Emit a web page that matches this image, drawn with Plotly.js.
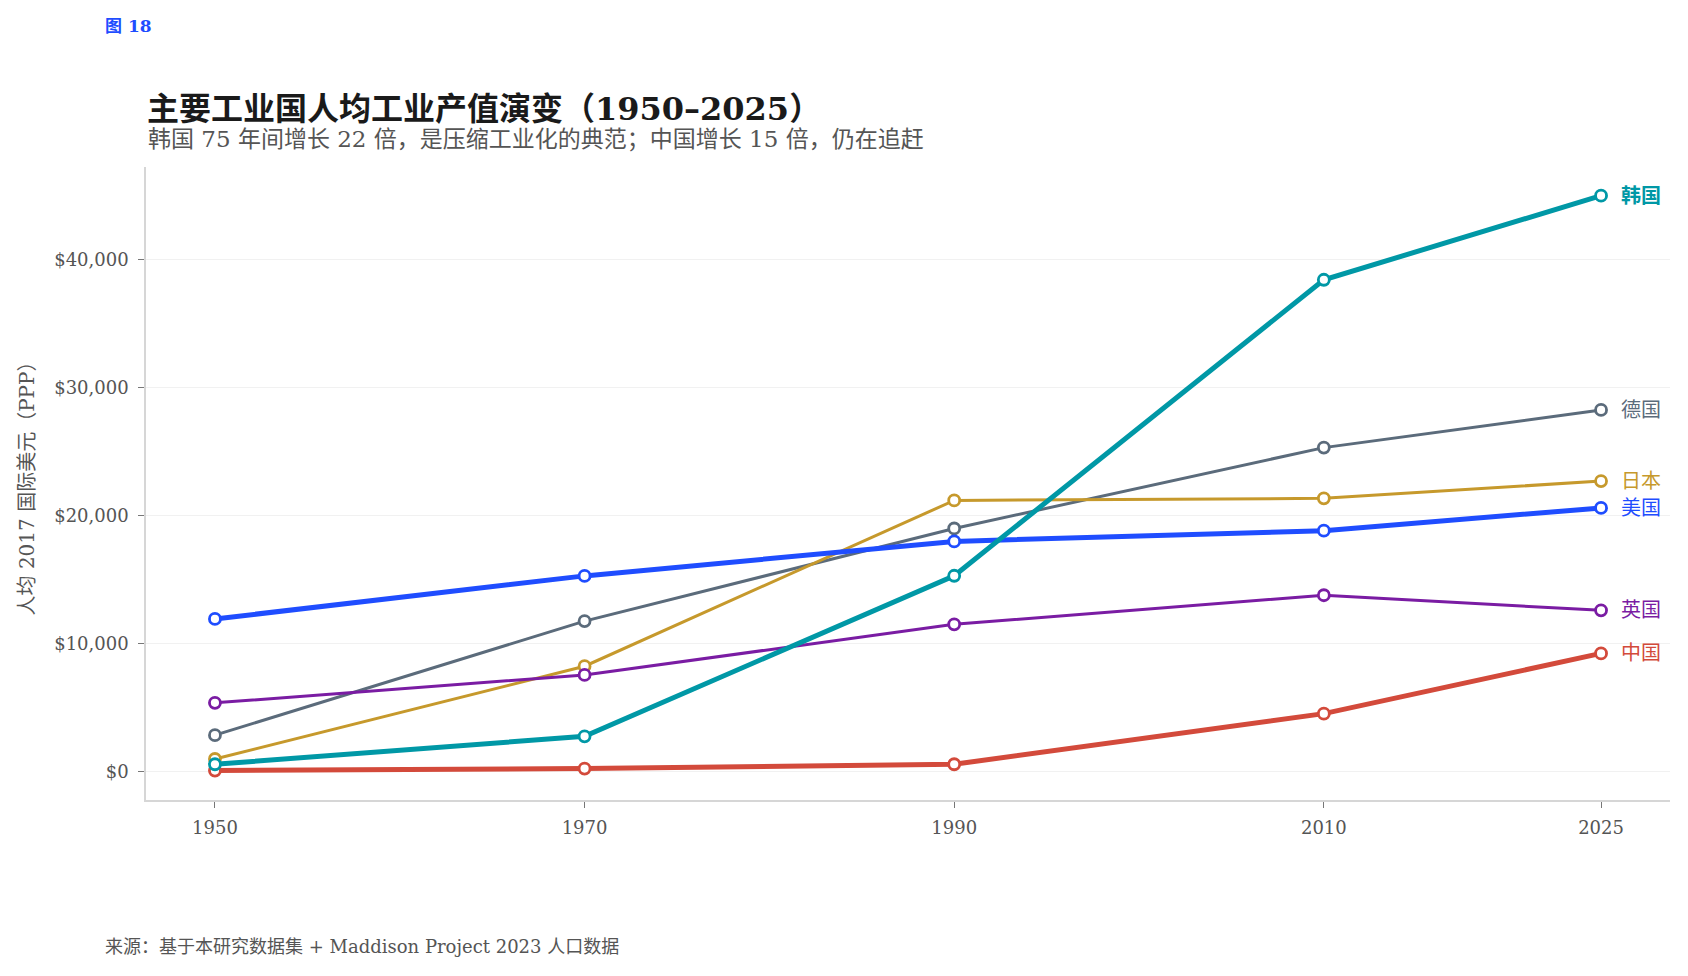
<!DOCTYPE html>
<html>
<head>
<meta charset="utf-8">
<script src="https://cdn.plot.ly/plotly-3.0.1.min.js"></script>
<style>
  html, body { margin: 0; padding: 0; background: #fff; }
  #chart { width: 1688px; height: 976px; }
</style>
</head>
<body>
<div id="chart"></div>
<script>
const years = [1950, 1970, 1990, 2010, 2025];
const countries = ["德国", "日本", "英国", "美国", "中国", "韩国"];
const korea   = [590, 2770, 15300, 38400, 44960];
const germany = [2860, 11760, 18990, 25300, 28240];
const japan   = [1000, 8240, 21180, 21340, 22690];
const usa     = [11930, 15290, 17980, 18820, 20590];
const uk      = [5380, 7560, 11510, 13780, 12600];
const china   = [100, 250, 590, 4540, 9240];
const tickVals = [0, 10000, 20000, 30000, 40000];
const tickText = ["$0", "$10,000", "$20,000", "$30,000", "$40,000"];

const seriesValues = { "韩国": korea, "德国": germany, "日本": japan, "美国": usa, "英国": uk, "中国": china };
const colors = { "韩国": "#0098A6", "德国": "#5B6B7B", "日本": "#C6992C", "美国": "#1F4DFF", "英国": "#7A1CA3", "中国": "#D34A3B" };
const widths = { "韩国": 5, "德国": 3, "日本": 3, "美国": 5, "英国": 3, "中国": 5 };

const FONT = "'DejaVu Serif', 'Noto Sans CJK SC', serif";

const traces = countries.map(c => ({
  x: years,
  y: seriesValues[c],
  type: "scatter",
  mode: "lines+markers",
  name: c,
  line: { color: colors[c], width: widths[c] },
  marker: { size: 11, color: "#ffffff", line: { color: colors[c], width: 2.8 } },
  hoverinfo: "x+y",
  showlegend: false
}));

const lastIdx = years.length - 1;
const labelAnn = countries.map(c => ({
  x: years[lastIdx],
  y: seriesValues[c][lastIdx],
  xref: "x", yref: "y",
  text: c,
  showarrow: false,
  xanchor: "left",
  yanchor: "middle",
  xshift: 18,
  font: { family: FONT, size: 20, color: colors[c], weight: c === "韩国" ? 700 : 400 }
}));

const textAnn = [
  { text: "图 18", xref: "paper", yref: "paper", x: -0.028, y: (800 - 26) / 633,
    xanchor: "left", yanchor: "middle", showarrow: false,
    font: { family: FONT, size: 17, color: "#1F4DFF", weight: 700 } },
  { text: "韩国 75 年间增长 22 倍，是压缩工业化的典范；中国增长 15 倍，仍在追赶", xref: "paper", yref: "paper",
    x: 0, y: (800 - 139) / 633, xanchor: "left", yanchor: "middle", showarrow: false,
    font: { family: FONT, size: 23, color: "#555555" } },
  { text: "来源：基于本研究数据集 + Maddison Project 2023 人口数据", xref: "paper", yref: "paper",
    x: -0.028, y: (800 - 946) / 633, xanchor: "left", yanchor: "middle", showarrow: false,
    font: { family: FONT, size: 18, color: "#555555" } }
];

const layout = {
  width: 1688, height: 976,
  paper_bgcolor: "#ffffff", plot_bgcolor: "#ffffff",
  margin: { l: 146, r: 18, t: 167, b: 176 },
  font: { family: FONT, color: "#555555" },
  title: {
    text: "<b>主要工业国人均工业产值演变（1950–2025）</b>",
    x: 147 / 1688, xanchor: "left", xref: "container",
    y: 1 - 109 / 976, yanchor: "middle", yref: "container",
    font: { family: FONT, size: 32, color: "#1a1a1a" }
  },
  xaxis: {
    range: [1946.27, 2028.73],
    tickvals: years,
    ticktext: years.map(String),
    showgrid: false, zeroline: false,
    showline: true, linecolor: "#d6d6d6", linewidth: 1.5,
    ticks: "outside", ticklen: 6, tickcolor: "#777777", tickwidth: 1,
    tickfont: { family: FONT, size: 18, color: "#555555" },
    ticklabelstandoff: 5
  },
  yaxis: {
    range: [-2200, 47200],
    tickvals: tickVals,
    ticktext: tickText,
    showgrid: true, gridcolor: "#f1f1f1", gridwidth: 1,
    zeroline: false,
    showline: true, linecolor: "#d6d6d6", linewidth: 1.5,
    ticks: "outside", ticklen: 6, tickcolor: "#777777", tickwidth: 1,
    tickfont: { family: FONT, size: 18, color: "#555555" },
    ticklabelstandoff: 6,
    title: { text: "人均 2017 国际美元（PPP）", font: { family: FONT, size: 20, color: "#555555" }, standoff: 14 }
  },
  annotations: labelAnn.concat(textAnn),
  hovermode: "closest"
};

Plotly.newPlot("chart", traces, layout, { displayModeBar: false, responsive: false });
</script>
</body>
</html>
